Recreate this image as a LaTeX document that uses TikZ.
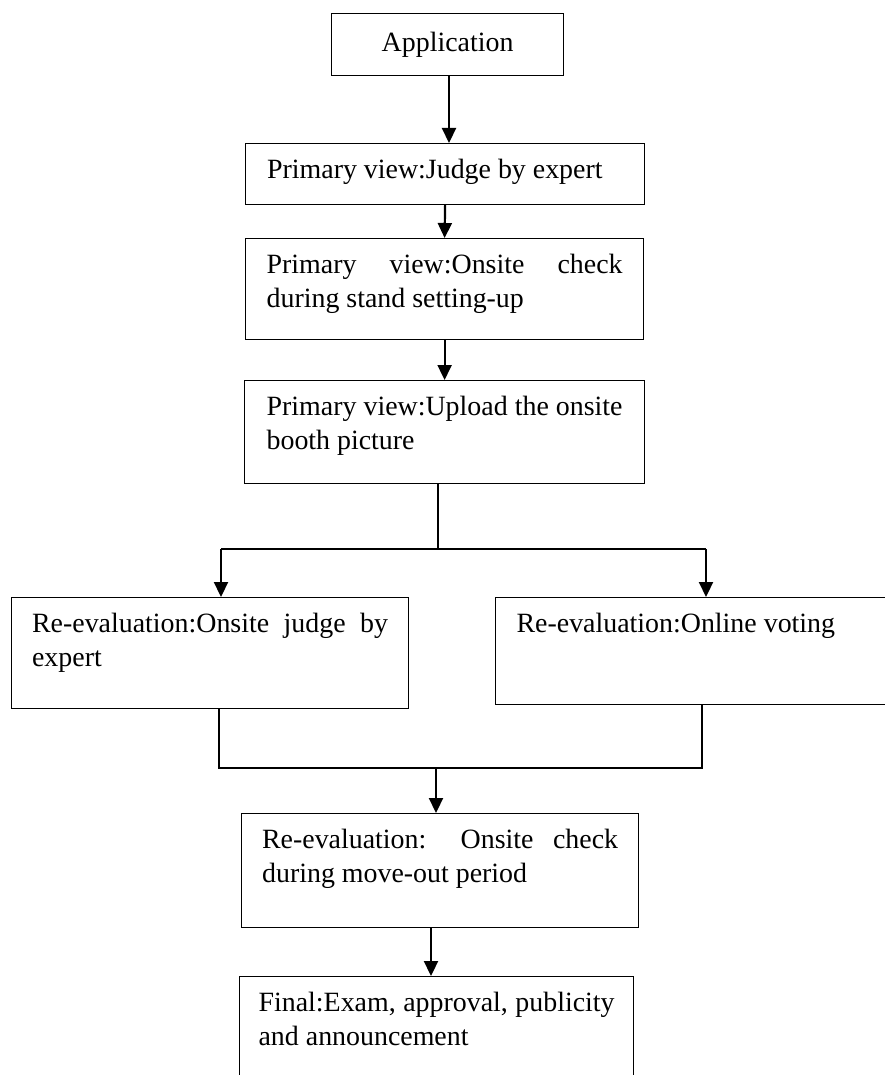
\documentclass[tikz,border=0pt]{standalone}
\usepackage{fontspec}
\setmainfont{Liberation Serif}
\usetikzlibrary{arrows.meta}
\newcommand\boxtxt[2]{\parbox[t][#1][t]{356pt}{\hyphenpenalty=10000\exhyphenpenalty=10000\strut #2}}
\begin{document}
\begin{tikzpicture}[x=1pt,y=-1pt,
  fbox/.style={draw, line width=1.2pt, inner xsep=0pt, inner ysep=11pt, anchor=north west,
    font=\fontsize{27.9pt}{34pt}\selectfont},
  arr/.style={line width=2.2pt, -{Triangle[width=14pt,length=15pt]}},
  conn/.style={line width=1.6pt}]
\useasboundingbox (0,0) rectangle (884,1075);

\node[fbox, minimum width=232pt, minimum height=62pt, inner ysep=0pt] (app) at (331,13) {Application};
\node[fbox, minimum width=399pt] (b2) at (245,143) {\boxtxt{39pt}{Primary view:Judge by expert}};
\node[fbox, minimum width=398pt] (b3) at (245,238) {\boxtxt{79pt}{Primary view:Onsite check\linebreak during stand setting-up}};
\node[fbox, minimum width=400pt] (b4) at (244,380) {\boxtxt{81pt}{Primary view:Upload the onsite\linebreak booth picture}};
\node[fbox, minimum width=397pt] (rl) at (11,597) {\boxtxt{89pt}{Re-evaluation:Onsite judge by\linebreak expert}};
\node[fbox, minimum width=398pt] (rr) at (495,597) {\boxtxt{85pt}{Re-evaluation:Online voting}};
\node[fbox, minimum width=397pt] (b8) at (241,813) {\boxtxt{92pt}{Re-evaluation: Onsite check\linebreak during move-out period}};
\node[fbox, minimum width=394pt] (b9) at (239,976) {\boxtxt{97pt}{Final:Exam, approval, publicity\linebreak and announcement}};

\coordinate (a1) at (449,0);
\draw[arr] (app.south -| a1) -- (b2.north -| a1);
\draw[arr] (b2.south) -- (b3.north);
\draw[arr] (b3.south) -- (b4.north);

\coordinate (s) at (438,549);
\coordinate (sl) at (221,549);
\coordinate (sr) at (706,549);
\draw[conn] (b4.south -| s) -- (s);
\draw[conn] (sl) -- (sr);
\draw[arr] (sl) -- (sl |- rl.north);
\draw[arr] (sr) -- (sr |- rr.north);

\coordinate (jl) at (219,768);
\coordinate (jr) at (702,768);
\coordinate (j) at (436,768);
\draw[conn] (rl.south -| jl) -- (jl) -- (jr) -- (rr.south -| jr);
\draw[arr] (j) -- (j |- b8.north);

\coordinate (m) at (431,0);
\draw[arr] (b8.south -| m) -- (b9.north -| m);
\end{tikzpicture}
\end{document}
